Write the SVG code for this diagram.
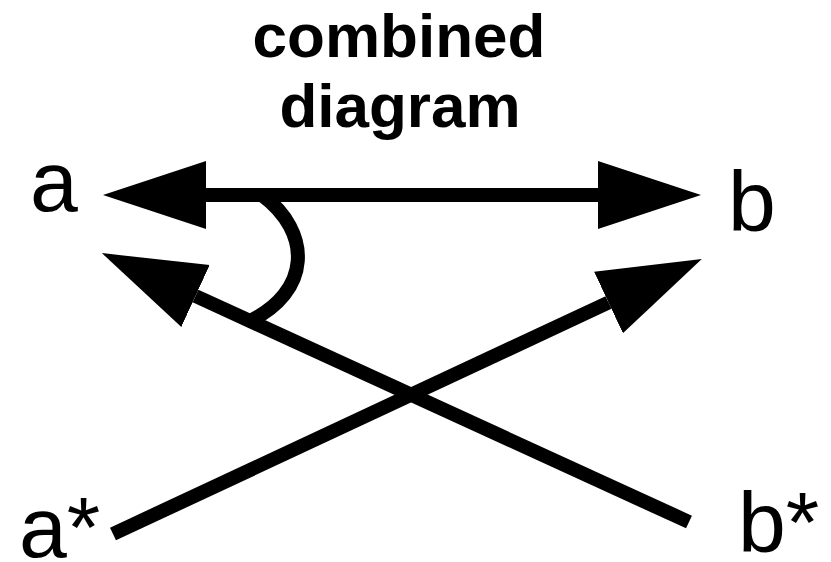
<svg xmlns="http://www.w3.org/2000/svg" width="831" height="562" viewBox="0 0 831 562">
<style>
.lbl{font-family:"Liberation Sans",Arial,sans-serif;font-size:86px;fill:#000}
.title{font-family:"Liberation Sans",Arial,sans-serif;font-size:62px;font-weight:bold;fill:#000;text-anchor:middle}
.edge{fill:none;stroke:#000;stroke-width:14;stroke-linecap:butt}
</style>
<defs>
<marker id="ah" markerUnits="userSpaceOnUse" markerWidth="106" markerHeight="70" refX="0" refY="34" orient="auto-start-reverse" viewBox="0 0 106 70">
<path d="M0,0 L103,34 L0,68 Z" fill="#000"/>
</marker>
</defs>
<rect width="831" height="562" fill="#fff"/>
<g id="title">
<text class="title" x="399" y="57">combined</text>
<text class="title" x="400" y="127">diagram</text>
</g>
<g id="connectors">
<path class="edge" d="M206,195 L598,195" marker-start="url(#ah)" marker-end="url(#ah)"/>
<path class="edge" d="M689,522 L195.5,296" marker-end="url(#ah)"/>
<path class="edge" d="M113,534 L608.5,302.5" marker-end="url(#ah)"/>
<path class="edge" d="M262,195 C312,232 312,292 248,322"/>
</g>
<g id="node-a"><text class="lbl" x="30" y="211">a</text></g>
<g id="node-b"><text class="lbl" x="728" y="231">b</text></g>
<g id="node-astar"><text class="lbl" x="19" y="557">a*</text></g>
<g id="node-bstar"><text class="lbl" x="738" y="552">b*</text></g>
</svg>
